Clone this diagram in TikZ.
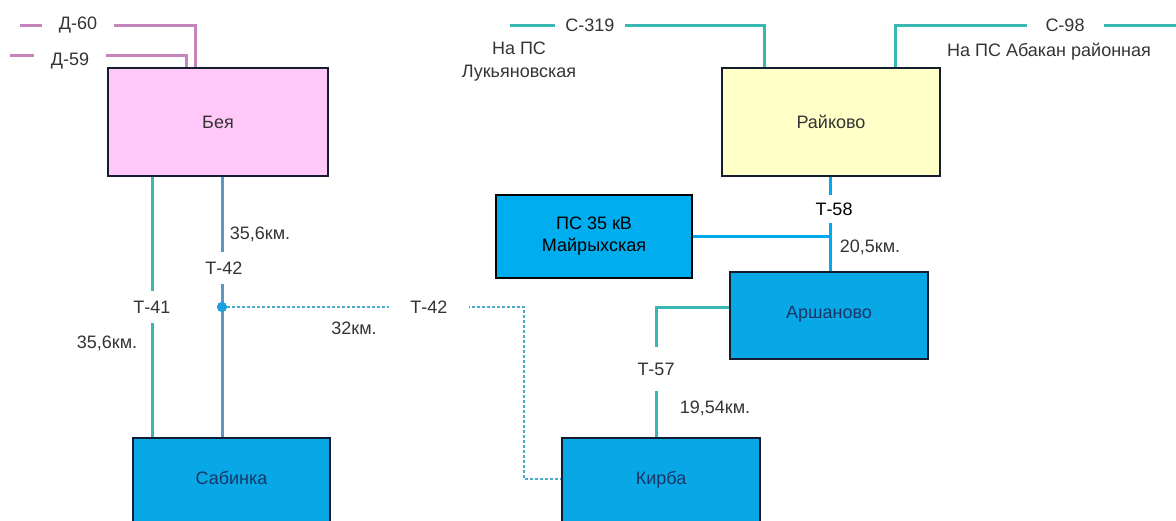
\documentclass[tikz,border=0pt]{standalone}
\usepackage{fontspec}
\setmainfont{Liberation Sans}
\usetikzlibrary{calc}
\definecolor{pinkline}{RGB}{196,132,188}
\definecolor{pinkfill}{RGB}{255,200,248}
\definecolor{yellowfill}{RGB}{255,255,200}
\definecolor{bluefill}{RGB}{8,168,230}
\definecolor{psfill}{RGB}{0,174,239}
\definecolor{tealline}{RGB}{56,184,176}
\definecolor{steelline}{RGB}{88,154,198}
\definecolor{cyanline}{RGB}{0,170,235}
\definecolor{dotcol}{RGB}{72,172,202}
\definecolor{jdot}{RGB}{30,160,224}
\definecolor{graytext}{RGB}{52,52,52}
\definecolor{navytext}{RGB}{24,54,104}
\definecolor{boxborder}{RGB}{20,28,48}
\tikzset{
  box/.style={draw=boxborder, line width=2.2pt, rectangle, inner sep=0pt,
    font=\fontsize{18}{20}\selectfont},
  bluebox/.style={box, fill=bluefill, text=navytext},
  lbl/.style={font=\fontsize{18}{20}\selectfont, text=graytext, inner sep=0pt},
  gap/.style={lbl, fill=white, inner xsep=4pt, inner ysep=4pt},
  pinkwire/.style={draw=pinkline, line width=3pt},
  tealwire/.style={draw=tealline, line width=3pt},
  steelwire/.style={draw=steelline, line width=3pt},
  cyanwire/.style={draw=cyanline, line width=3pt},
  dotwire/.style={draw=dotcol, line width=2.8pt, dash pattern=on 3pt off 2pt},
}
\begin{document}
\begin{tikzpicture}[x=1pt,y=-1pt]
\useasboundingbox (0,0) rectangle (1176,520);
\clip (0,0) rectangle (1176,520);

% boxes
\node[box, fill=pinkfill, text=black!80, minimum width=220pt, minimum height=108pt] (beya) at (218,122) {Бея};
\node[box, fill=yellowfill, text=black!80, minimum width=218pt, minimum height=108pt] (raikovo) at (831,122) {Райково};
\node[box, draw=black, line width=2.8pt, fill=psfill, text=black, minimum width=196pt, minimum height=83pt, align=center,
      font=\fontsize{18}{22}\selectfont] (ps) at (594,236.5) {ПС 35 кВ\\Майрыхская};
\node[bluebox, minimum width=198pt, minimum height=87pt, text height=13pt, text depth=7pt] (arshanovo) at (829,315.5) {Аршаново};
\node[bluebox, anchor=north, minimum width=197pt, minimum height=120pt, text height=13pt, text depth=40pt] (sabinka) at (231.5,437) {Сабинка};
\node[bluebox, anchor=north, minimum width=198pt, minimum height=120pt, text height=13pt, text depth=40pt] (kirba) at (661,437) {Кирба};

% helper coordinates
\coordinate (d60) at (20,25);
\coordinate (d59) at (10,55);
\coordinate (c319) at (510,25);
\coordinate (c98) at (1176,25);
\coordinate (x41) at (152,0);
\coordinate (x524) at (524,0);
\coordinate (x830) at (830,0);
\coordinate (x656) at (656,0);
\coordinate (y307) at (0,307);
\coordinate (y479) at (0,479);

% junction dot
\node[circle, fill=jdot, inner sep=0pt, minimum size=10pt] (j42) at (222,307) {};

% wires
\draw[pinkwire] (d60) -| ([xshift=89pt]beya.north west);
\draw[pinkwire] (d59) -| ([xshift=80pt]beya.north west);
\draw[tealwire] (c319) -| ([xshift=44pt]raikovo.north west);
\draw[tealwire] (c98) -| ([xshift=175pt]raikovo.north west);
\draw[tealwire] (beya.south -| x41) -- (sabinka.north -| x41);
\draw[steelwire] (beya.south -| j42) -- (sabinka.north -| j42);
\draw[dotwire] (j42) -- (j42 -| x524) |- (kirba.west |- y479);
\draw[cyanwire] (raikovo.south -| x830) -- (arshanovo.north -| x830);
\draw[cyanwire] (ps.east) -- (ps.east -| x830);
\draw[tealwire] (arshanovo.west |- y307) -| (kirba.north -| x656);
\node[circle, fill=jdot, inner sep=0pt, minimum size=10pt] (j42top) at (j42) {};

% labels breaking the lines
\node[gap, inner xsep=17pt] (ld60) at (78,25) {Д-60};
\node[gap, inner xsep=17pt] (ld59) at (70,61) {Д-59};
\node[gap, inner xsep=10pt] (lc319) at (590,25) {С-319};
\node[gap, inner xsep=19pt] (lc98) at (1065,25) {С-98};
\node[gap, inner ysep=9.5pt] (lt41) at (152,307) {Т-41};
\node[gap, inner ysep=10pt] (lt42a) at (224,268) {Т-42};
\node[gap, inner xsep=21pt] (lt42b) at (429,307) {Т-42};
\node[gap, inner ysep=7.5pt, text=black] (lt58) at (834,209) {Т-58};
\node[gap, inner ysep=16pt] (lt57) at (656,369) {Т-57};

% plain labels
\node[lbl] (k1) at (260,234) {35,6км.};
\node[lbl] (k2) at (107,343) {35,6км.};
\node[lbl] (k3) at (354,328) {32км.};
\node[lbl] (k4) at (870,247) {20,5км.};
\node[lbl] (k5) at (715,408) {19,54км.};
\node[lbl, align=center, font=\fontsize{18}{23}\selectfont] (luk) at (519,62) {На ПС\\Лукьяновская};
\node[lbl] (abk) at (1049,52) {На ПС Абакан районная};
\end{tikzpicture}
\end{document}
